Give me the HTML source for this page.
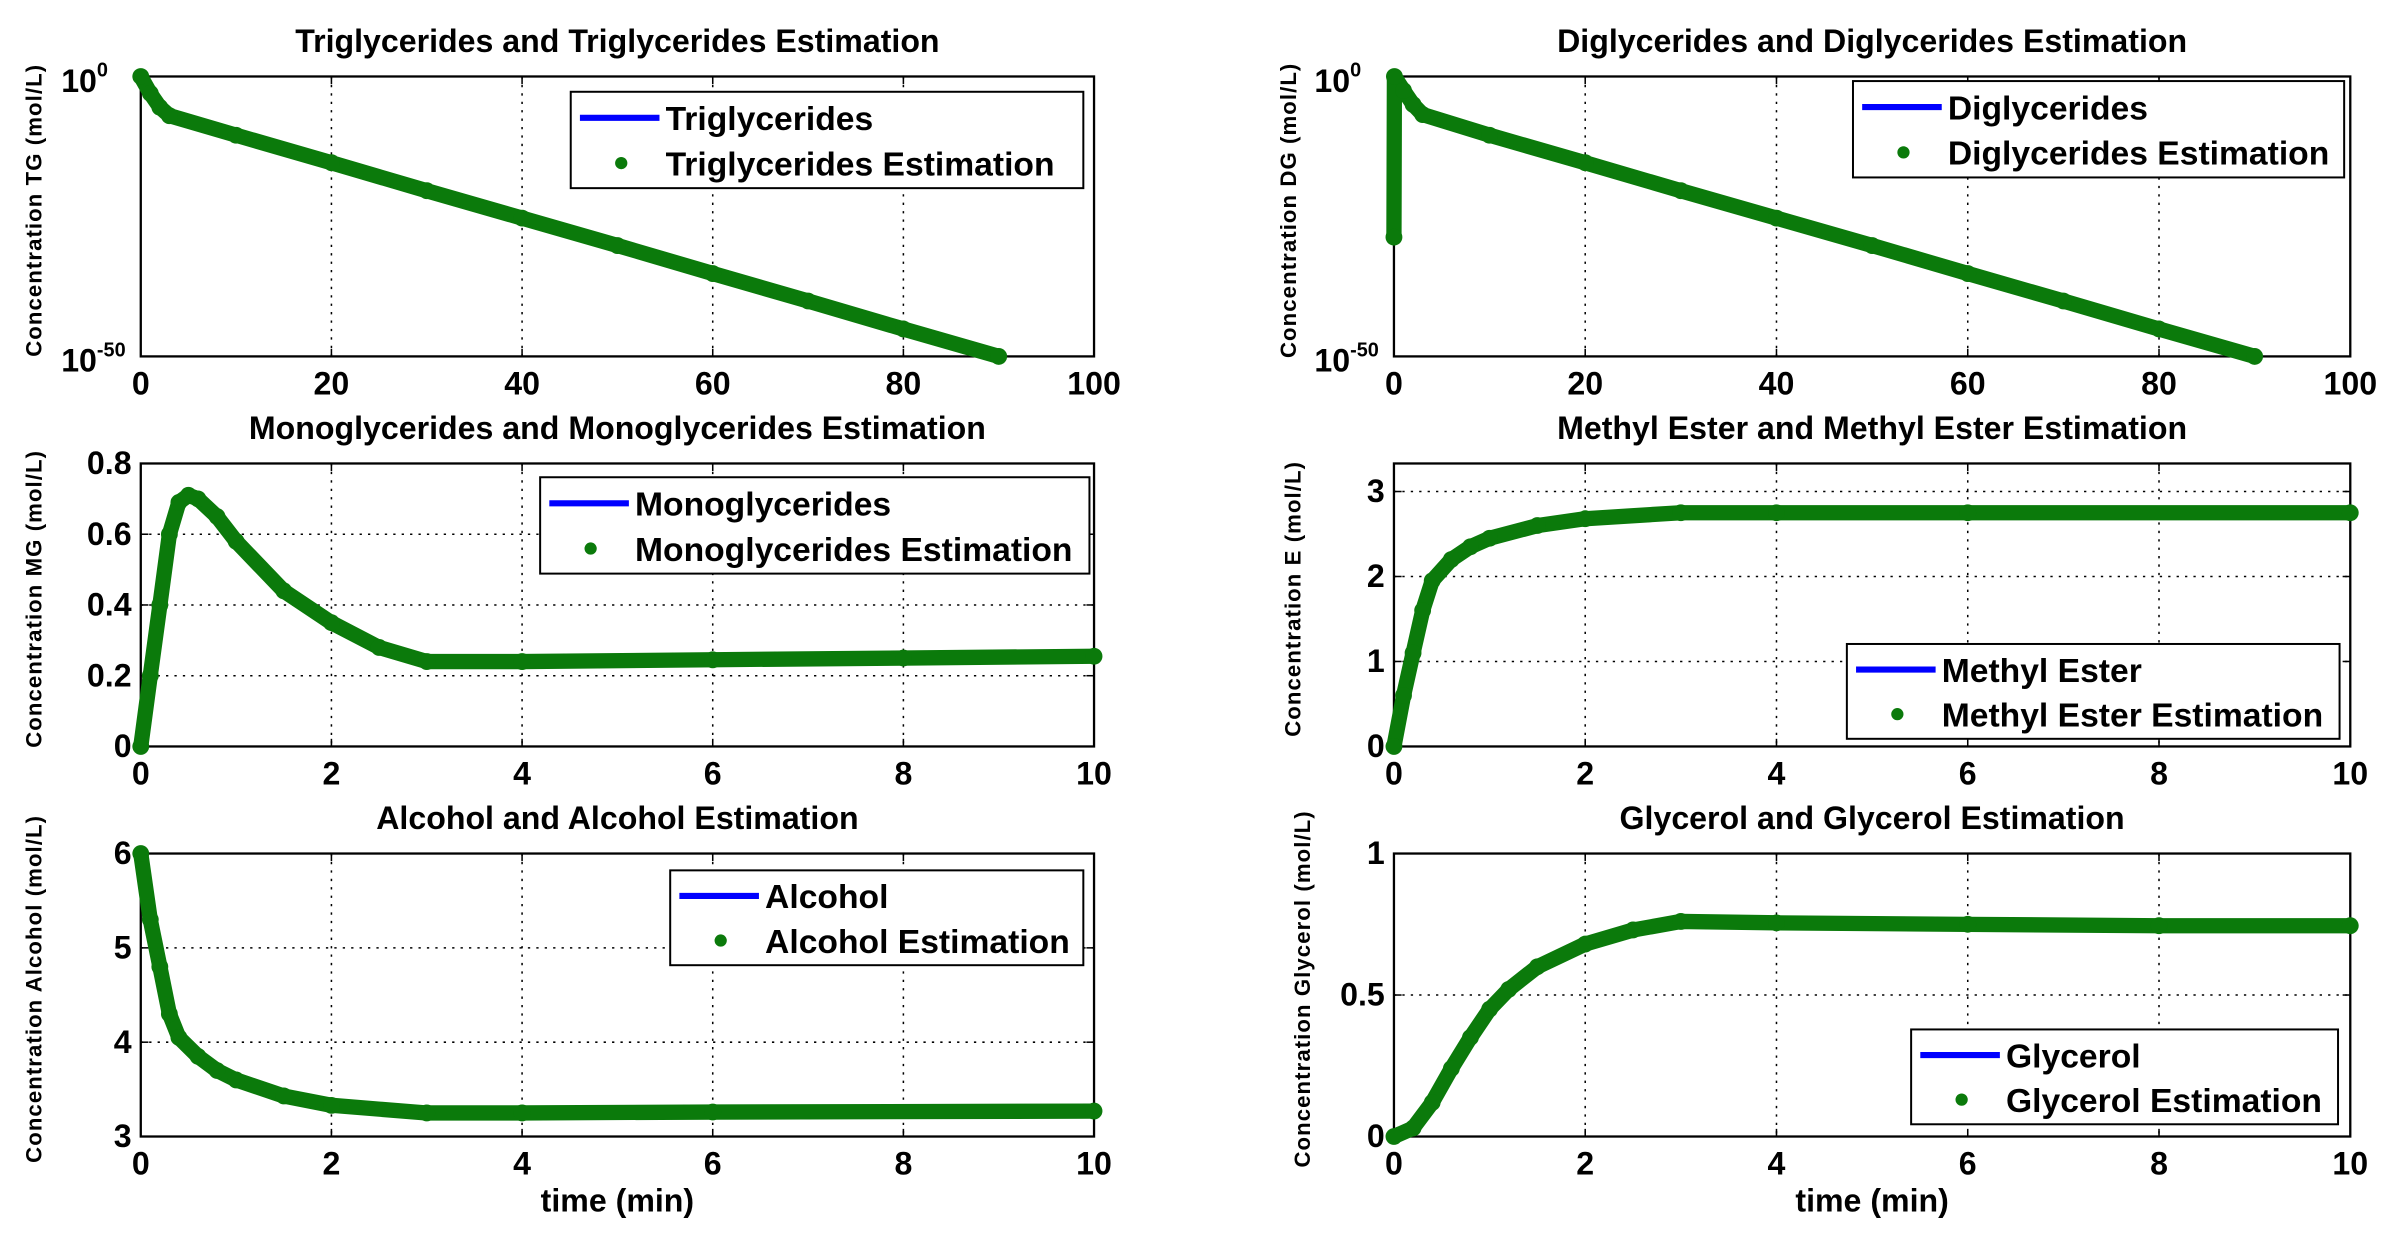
<!DOCTYPE html>
<html><head><meta charset="utf-8">
<style>
html,body{margin:0;padding:0;background:#fff;}
svg{display:block;}
text{font-family:"Liberation Sans",Arial,sans-serif;font-weight:bold;fill:#000;}
</style></head>
<body>
<svg id="fig" width="2387" height="1239" viewBox="0 0 1560 810" preserveAspectRatio="none" xmlns="http://www.w3.org/2000/svg"></svg>
<script>
// ---- data ----
const tgTime = [0, 1, 2, 3, 10, 20, 30, 40, 50, 60, 70, 80, 90];
const tgLog10 = [0, -3, -5.5, -7, -10.5, -15.4, -20.4, -25.3, -30.2, -35.2, -40.1, -45.1, -50];
const dgTime = [0, 0.05, 1, 2, 3, 10, 20, 30, 40, 50, 60, 70, 80, 90];
const dgLog10 = [-28.7, 0, -2.5, -5, -6.8, -10.5, -15.4, -20.4, -25.3, -30.2, -35.2, -40.1, -45.1, -50];
const mgTime = [0, 0.1, 0.2, 0.3, 0.4, 0.5, 0.6, 0.8, 1.0, 1.5, 2, 2.5, 3, 4, 6, 8, 10];
const mgVals = [0, 0.2, 0.4, 0.6, 0.69, 0.71, 0.70, 0.65, 0.58, 0.44, 0.35, 0.28, 0.24, 0.24, 0.245, 0.25, 0.255];
const eTime = [0, 0.1, 0.2, 0.3, 0.4, 0.6, 0.8, 1, 1.5, 2, 3, 4, 6, 10];
const eVals = [0, 0.6, 1.1, 1.6, 1.95, 2.2, 2.35, 2.45, 2.6, 2.68, 2.75, 2.75, 2.75, 2.75];
const alTime = [0, 0.1, 0.2, 0.3, 0.4, 0.6, 0.8, 1, 1.5, 2, 3, 4, 6, 10];
const alVals = [6, 5.3, 4.8, 4.3, 4.05, 3.85, 3.7, 3.6, 3.43, 3.33, 3.25, 3.25, 3.26, 3.27];
const glTime = [0, 0.2, 0.4, 0.6, 0.8, 1, 1.2, 1.5, 2, 2.5, 3, 4, 6, 8, 10];
const glVals = [0, 0.03, 0.12, 0.24, 0.35, 0.45, 0.52, 0.6, 0.68, 0.73, 0.76, 0.755, 0.75, 0.745, 0.745];
const xTicks100 = [0, 20, 40, 60, 80, 100];
const xTicks10 = [0, 2, 4, 6, 8, 10];
const mgTicks = [0, 0.2, 0.4, 0.6, 0.8];
const eTicks = [0, 1, 2, 3];
const alTicks = [3, 4, 5, 6];
const glTicks = [0, 0.5, 1];

const NS = "http://www.w3.org/2000/svg";
const fig = document.getElementById('fig');
function mk(tag, attrs, parent) {
  const e = document.createElementNS(NS, tag);
  for (const k in attrs) e.setAttribute(k, attrs[k]);
  (parent || fig).appendChild(e);
  return e;
}

function panel(o) {
  const g = mk('g', {});
  
  
  const L = o.x0, R = o.x1, T = o.y0, B = o.y1;
  const sx = v => L + (v - o.xmin) / (o.xmax - o.xmin) * (R - L);
  const sy = v => B - (v - o.ymin) / (o.ymax - o.ymin) * (B - T);
  const t = mk('text', {x: (L + R) / 2, y: T - 16, 'text-anchor': 'middle', 'font-size': 21}, g);
  t.textContent = o.title;
  
  
  o.xticks.forEach(v => {
    const x = sx(v);
    if (v !== o.xmin && v !== o.xmax) {
      const gl = mk('line', {x1: x, y1: T, x2: x, y2: B, stroke: '#000', 'stroke-width': 1, 'stroke-dasharray': '1.5 4'}, g);
      
      
    }
    mk('line', {x1: x, y1: B, x2: x, y2: B - 5, stroke: '#000'}, g);
    mk('line', {x1: x, y1: T, x2: x, y2: T + 5, stroke: '#000'}, g);
    const lb = mk('text', {x: x, y: B + 25, 'text-anchor': 'middle', 'font-size': 21}, g);
    lb.textContent = String(v);
    
    
  });
  o.yticks.forEach((v, i) => {
    const y = sy(v);
    if (!o.log && v !== o.ymin && v !== o.ymax) {
      const gl = mk('line', {x1: L, y1: y, x2: R, y2: y, stroke: '#000', 'stroke-width': 1, 'stroke-dasharray': '1.5 4'}, g);
      
      
    }
    mk('line', {x1: L, y1: y, x2: L + 5, y2: y, stroke: '#000'}, g);
    mk('line', {x1: R, y1: y, x2: R - 5, y2: y, stroke: '#000'}, g);
    const lb = mk('text', {x: L - 6, y: y + 7, 'text-anchor': 'end', 'font-size': 21}, g);
    if (o.log) {
      lb.textContent = '10';
      const sp = mk('tspan', {dy: -10, 'font-size': 13}, lb);
      sp.textContent = String(o.ylabels[i]);
      lb.setAttribute('text-anchor', 'start');
      lb.setAttribute('x', L - 52);
      lb.setAttribute('y', y + 10);
    } else {
      lb.textContent = String(v);
    }
    
    
  });
  const box = mk('rect', {x: L, y: T, width: R - L, height: B - T, fill: 'none', stroke: '#000', 'stroke-width': 1.5}, g);
  
  
  const yl = mk('text', {transform: `translate(${o.ylx},${(T + B) / 2 - 4}) rotate(-90)`, 'text-anchor': 'middle', 'font-size': 14.5, 'letter-spacing': 0.7}, g);
  yl.textContent = o.ylabel;
  
  
  if (o.xlabel) {
    const xl = mk('text', {x: (L + R) / 2, y: B + 49, 'text-anchor': 'middle', 'font-size': 21}, g);
    xl.textContent = o.xlabel;
    
    
  }
  const pts = o.t.map((tv, i) => [sx(tv), sy(o.v[i])]);
  const d = pts.map((p, i) => (i ? 'L' : 'M') + p[0].toFixed(1) + ',' + p[1].toFixed(1)).join('');
  const ln = mk('path', {d: d, fill: 'none', stroke: '#0000ff', 'stroke-width': 3}, g);
  
  
  const est = mk('path', {d: d, fill: 'none', stroke: '#0b7a0b', 'stroke-width': 10, 'stroke-linejoin': 'round', 'stroke-linecap': 'round'}, g);
  
  
  pts.forEach(p => {
    const c = mk('circle', {cx: p[0], cy: p[1], r: 5.5, fill: '#0b7a0b'}, g);
    
    
  });
  const lg = mk('g', {}, g);
  
  
  const [lx, ly, lw, lh] = o.leg;
  mk('rect', {x: lx, y: ly, width: lw, height: lh, fill: '#fff', stroke: '#000', 'stroke-width': 1.3}, lg);
  const e1 = mk('line', {x1: lx + 6, y1: ly + lh * 0.27, x2: lx + 58, y2: ly + lh * 0.27, stroke: '#0000ff', 'stroke-width': 4}, lg);
  
  
  const t1 = mk('text', {x: lx + 62, y: ly + lh * 0.27 + 8, 'font-size': 22}, lg);
  t1.textContent = o.names[0];
  
  
  const e2 = mk('circle', {cx: lx + 33, cy: ly + lh * 0.74, r: 4, fill: '#0b7a0b'}, lg);
  
  
  const t2 = mk('text', {x: lx + 62, y: ly + lh * 0.74 + 8, 'font-size': 22}, lg);
  t2.textContent = o.names[1];
  
  
}

panel({id: 'triglycerides', x0: 92, x1: 715, y0: 50, y1: 233, xmin: 0, xmax: 100, ymin: -50, ymax: 0, log: true,
  xticks: xTicks100, yticks: [0, -50], ylabels: [0, -50], t: tgTime, v: tgLog10,
  title: 'Triglycerides and Triglycerides Estimation', ylabel: 'Concentration TG (mol/L)', ylx: 27,
  leg: [373, 60, 335, 63], names: ['Triglycerides', 'Triglycerides  Estimation']});
panel({id: 'diglycerides', x0: 911, x1: 1536, y0: 50, y1: 233, xmin: 0, xmax: 100, ymin: -50, ymax: 0, log: true,
  xticks: xTicks100, yticks: [0, -50], ylabels: [0, -50], t: dgTime, v: dgLog10,
  title: 'Diglycerides and Diglycerides Estimation', ylabel: 'Concentration DG (mol/L)', ylx: 847,
  leg: [1211, 53, 321, 63], names: ['Diglycerides', 'Diglycerides Estimation']});
panel({id: 'monoglycerides', x0: 92, x1: 715, y0: 303, y1: 488, xmin: 0, xmax: 10, ymin: 0, ymax: 0.8,
  xticks: xTicks10, yticks: mgTicks, t: mgTime, v: mgVals,
  title: 'Monoglycerides and Monoglycerides Estimation', ylabel: 'Concentration MG (mol/L)', ylx: 27,
  leg: [353, 312, 359, 63], names: ['Monoglycerides', 'Monoglycerides Estimation']});
panel({id: 'methyl-ester', x0: 911, x1: 1536, y0: 303, y1: 488, xmin: 0, xmax: 10, ymin: 0, ymax: 3.33,
  xticks: xTicks10, yticks: eTicks, t: eTime, v: eVals,
  title: 'Methyl Ester and Methyl Ester Estimation', ylabel: 'Concentration E  (mol/L)', ylx: 850,
  leg: [1207, 421, 322, 62], names: ['Methyl Ester', 'Methyl Ester Estimation']});
panel({id: 'alcohol', x0: 92, x1: 715, y0: 558, y1: 743, xmin: 0, xmax: 10, ymin: 3, ymax: 6,
  xticks: xTicks10, yticks: alTicks, t: alTime, v: alVals, xlabel: 'time (min)',
  title: 'Alcohol and Alcohol Estimation', ylabel: 'Concentration Alcohol  (mol/L)', ylx: 27,
  leg: [438, 569, 270, 62], names: ['Alcohol', 'Alcohol Estimation']});
panel({id: 'glycerol', x0: 911, x1: 1536, y0: 558, y1: 743, xmin: 0, xmax: 10, ymin: 0, ymax: 1,
  xticks: xTicks10, yticks: glTicks, t: glTime, v: glVals, xlabel: 'time (min)',
  title: 'Glycerol and Glycerol Estimation', ylabel: 'Concentration Glycerol   (mol/L)', ylx: 856,
  leg: [1249, 673, 279, 62], names: ['Glycerol', 'Glycerol Estimation']});
</script>
</body></html>
